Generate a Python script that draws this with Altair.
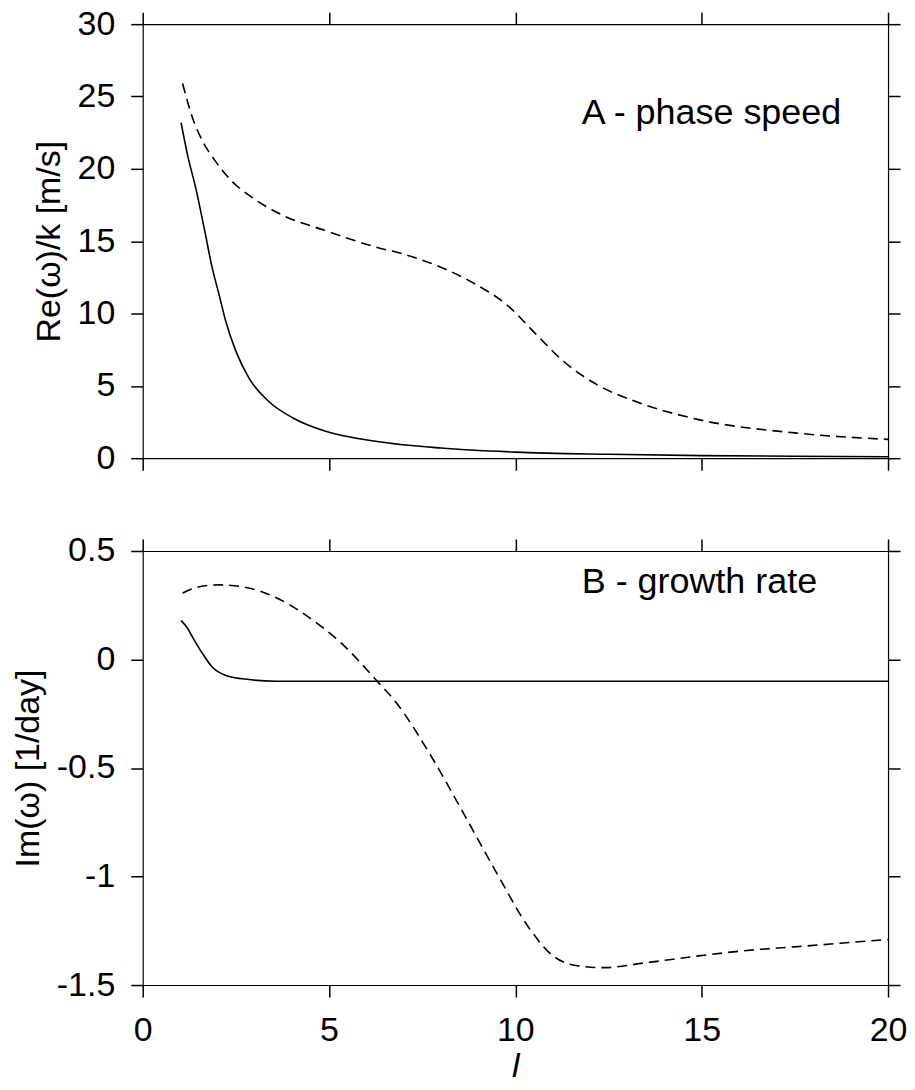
import altair as alt
import pandas as pd

# ---- data ----
x_ticks = [0, 5, 10, 15, 20]
yA_ticks = [0, 5, 10, 15, 20, 25, 30]
yB_ticks = [-1.5, -1, -0.5, 0, 0.5]

a_solid_l = [1.03, 1.2, 1.43, 1.65, 1.87, 2.05, 2.23, 2.5, 2.86, 3.39, 4.02, 4.91, 6.25, 8.0, 10.0, 12.5, 15.0, 17.5, 20.0]
a_solid_v = [23.2, 21.0, 18.6, 15.9, 13.1, 11.3, 9.45, 7.4, 5.5, 3.9, 2.8, 1.86, 1.17, 0.7, 0.42, 0.27, 0.18, 0.13, 0.1]

a_dash_l = [1.07, 1.34, 1.61, 1.96, 2.41, 2.95, 3.75, 4.82, 6.25, 7.0, 8.0, 8.88, 9.77, 10.58, 11.29, 12.18, 13.25, 14.86, 17.5, 20.0]
a_dash_v = [25.9, 23.5, 21.9, 20.5, 19.1, 18.0, 16.8, 15.8, 14.6, 14.1, 13.2, 12.1, 10.6, 8.5, 6.7, 5.1, 3.9, 2.7, 1.75, 1.3]

b_solid_l = [1.03, 1.2, 1.34, 1.61, 1.87, 2.23, 2.68, 3.57, 5.0, 10.0, 15.0, 20.0]
b_solid_v = [0.179, 0.145, 0.102, 0.026, -0.036, -0.074, -0.089, -0.1, -0.1, -0.1, -0.1, -0.1]

b_dash_l = [1.07, 1.52, 2.05, 2.68, 3.57, 4.46, 5.35, 6.25, 6.83, 7.72, 8.61, 9.5, 10.4, 11.02, 11.73, 12.36, 13.52, 14.86, 16.2, 17.5, 20.0]
b_dash_v = [0.306, 0.335, 0.344, 0.335, 0.286, 0.194, 0.072, -0.092, -0.205, -0.44, -0.709, -0.984, -1.245, -1.367, -1.413, -1.42, -1.397, -1.367, -1.341, -1.324, -1.29]

labels_A = ["A - phase speed"]
labels_B = ["B - growth rate"]
label_l = [11.78]
label_A_v = [23.1]
label_B_v = [0.307]

FONT = "Liberation Sans"
FS = 34
W, H = 747, 435

xscale = alt.Scale(domain=[0, 20], nice=False, zero=False)


def panel(sl, sv, dl, dv, tl, tv, txt, ydom, yvals, ytitle, bottom_labels):
    yscale = alt.Scale(domain=ydom, nice=False, zero=False)
    s_df = pd.DataFrame({"l": sl, "v": sv})
    d_df = pd.DataFrame({"l": dl, "v": dv})
    t_df = pd.DataFrame({"l": tl, "v": tv, "t": txt})
    solid = alt.Chart(s_df).mark_line(color="black", strokeWidth=1.6, interpolate="monotone").encode(
        x=alt.X("l:Q", scale=xscale,
                axis=alt.Axis(orient="bottom", values=x_ticks, labels=bottom_labels,
                              title="l" if bottom_labels else None, labelPadding=17,
                              titlePadding=2, titleFontStyle="italic")),
        y=alt.Y("v:Q", scale=yscale,
                axis=alt.Axis(orient="left", values=yvals, title=ytitle,
                              labelExpr="'' + datum.value", labelPadding=16)),
    )
    dashed = alt.Chart(d_df).mark_line(color="black", strokeWidth=1.6, strokeDash=[10, 6],
                                       interpolate="monotone").encode(
        x=alt.X("l:Q", scale=xscale,
                axis=alt.Axis(orient="top", values=x_ticks, labels=False, title=None)),
        y=alt.Y("v:Q", scale=yscale,
                axis=alt.Axis(orient="right", values=yvals, labels=False, title=None)),
    )
    text = alt.Chart(t_df).mark_text(align="left", baseline="alphabetic", font=FONT,
                                     fontSize=36, color="black").encode(
        x=alt.X("l:Q", scale=xscale, axis=None),
        y=alt.Y("v:Q", scale=yscale, axis=None),
        text="t:N",
    )
    return alt.layer(solid, dashed, text).resolve_axis(x="independent", y="independent").properties(
        width=W, height=H)


top = panel(a_solid_l, a_solid_v, a_dash_l, a_dash_v, label_l, label_A_v, labels_A,
            [0, 30], yA_ticks, "Re(ω)/k [m/s]", False)
bottom = panel(b_solid_l, b_solid_v, b_dash_l, b_dash_v, label_l, label_B_v, labels_B,
               [-1.5, 0.5], yB_ticks, "Im(ω) [1/day]", True)

chart = alt.vconcat(top, bottom, spacing=59).properties(
    padding={"left": 3, "top": -2, "right": 0, "bottom": 0}
).configure_view(stroke=None).configure_axis(
    domainColor="black", domainWidth=1.2, tickColor="black", tickSize=12, tickWidth=1.5,
    labelFont=FONT, labelFontSize=FS, labelColor="black", labelFlush=False, labelOverlap=False,
    titleFont=FONT, titleFontSize=FS, titleColor="black", titleFontWeight="normal",
    titlePadding=11, grid=False,
)

chart.save("out.html", embed_options={"renderer": "svg", "actions": False})
